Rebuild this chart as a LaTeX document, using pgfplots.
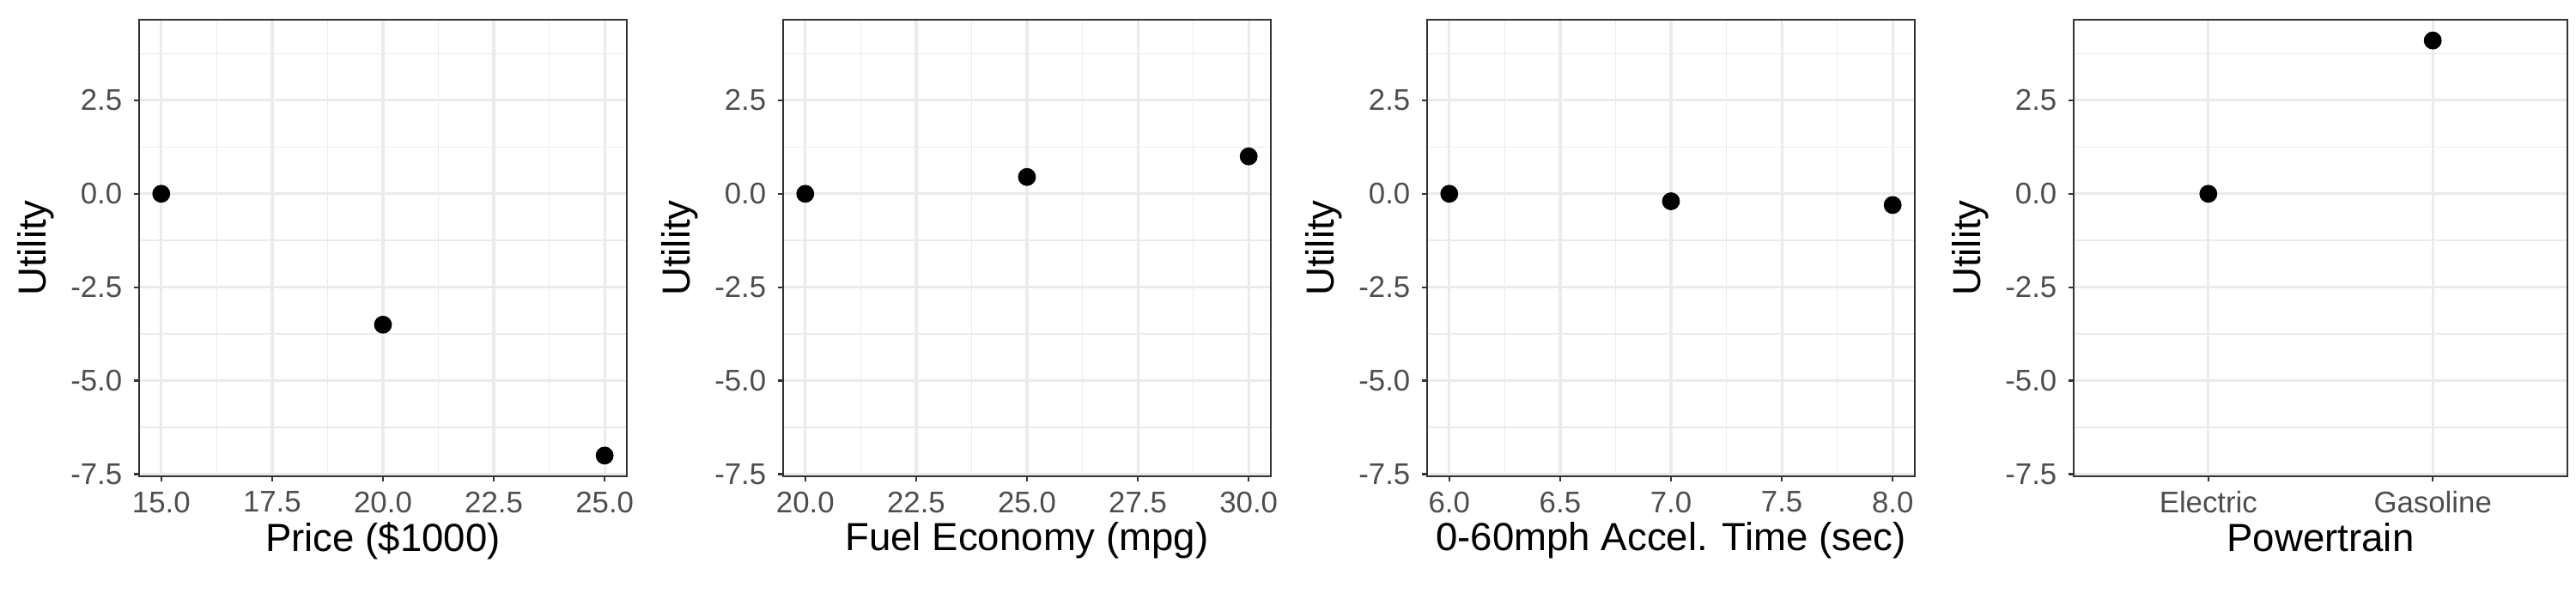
\documentclass[border=0pt]{standalone}
\usepackage{pgfplots}
\pgfplotsset{compat=1.18}
\usepackage{fontspec}
\setmainfont{Liberation Sans}
\definecolor{gmaj}{HTML}{EBEBEB}
\definecolor{frame}{HTML}{333333}
\definecolor{tl}{HTML}{4D4D4D}
\pgfplotsset{
  util/.style={
    scale only axis, width=142pt, height=133pt, anchor=south west,
    ymin=-7.555, ymax=4.655,
    ytick={-7.5,-5,-2.5,0,2.5}, minor ytick={-6.25,-3.75,-1.25,1.25,3.75},
    yticklabels={-7.5,-5.0,-2.5,0.0,2.5},
    grid=both,
    major grid style={gmaj, line width=0.8pt},
    minor grid style={gmaj, line width=0.4pt},
    axis line style={frame, line width=0.45pt},
    tick align=outside, xtick pos=bottom, ytick pos=left,
    major tick length=1.4pt, minor tick length=0pt,
    tick style={frame, line width=0.6pt},
    ticklabel style={font=\fontsize{8.7}{9}\selectfont, text=tl},
    xticklabel style={yshift=0.5pt},
    label style={font=\fontsize{11.4}{13}\selectfont},
    ylabel={Utility},
    ylabel style={yshift=-2pt},
    xlabel style={yshift=4pt},
    /pgf/number format/assume math mode=true,
    /pgf/number format/fixed, /pgf/number format/fixed zerofill,
    /pgf/number format/precision=1,
    mark options={black, fill=black},
  },
}
\begin{document}
\begin{tikzpicture}
\useasboundingbox (0,0) rectangle (750pt,172.5pt);
\begin{axis}[util, at={(40.5pt,33.75pt)}, xmin=14.5, xmax=25.5,
  xtick={15,17.5,20,22.5,25}, minor xtick={16.25,18.75,21.25,23.75},
  xlabel={Price (\$1000)}]
\addplot[only marks, mark=*, mark size=2.4pt] coordinates {(15,0) (20,-3.5) (25,-7)};
\end{axis}
\begin{axis}[util, at={(228pt,33.75pt)}, xmin=19.5, xmax=30.5,
  xtick={20,22.5,25,27.5,30}, minor xtick={21.25,23.75,26.25,28.75},
  xlabel={Fuel Economy (mpg)}]
\addplot[only marks, mark=*, mark size=2.4pt] coordinates {(20,0) (25,0.45) (30,1.0)};
\end{axis}
\begin{axis}[util, at={(415.5pt,33.75pt)}, xmin=5.9, xmax=8.1,
  xtick={6,6.5,7,7.5,8}, minor xtick={6.25,6.75,7.25,7.75},
  xlabel={0-60mph Accel. Time (sec)}]
\addplot[only marks, mark=*, mark size=2.4pt] coordinates {(6,0) (7,-0.2) (8,-0.3)};
\end{axis}
\begin{axis}[util, at={(603.75pt,33.75pt)}, width=143.75pt, xmin=-0.6, xmax=1.6,
  xtick={0,1}, xticklabels={Electric,Gasoline}, minor xtick={},
  xlabel={Powertrain}]
\addplot[only marks, mark=*, mark size=2.4pt] coordinates {(0,0) (1,4.1)};
\end{axis}
\end{tikzpicture}
\end{document}
